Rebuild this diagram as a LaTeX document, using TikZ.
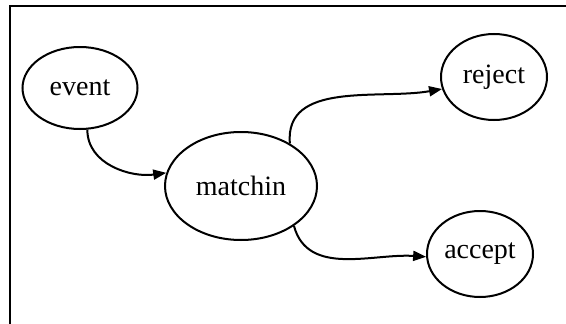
\documentclass[tikz,border=0pt]{standalone}
\usepackage{fontspec}
\setmainfont{Liberation Serif}
\usetikzlibrary{shapes.geometric,arrows.meta}
\begin{document}
\begin{tikzpicture}[x=1pt,y=-1pt,
  state/.style={draw,ellipse,line width=2pt,inner sep=0pt,font=\fontsize{28}{32}\selectfont},
  conn/.style={line width=2pt,-{Triangle[length=13pt,width=10pt]}}]
\useasboundingbox (0,0) rectangle (566,324);
\coordinate (fb) at (10,324);
\coordinate (ftl) at (10,6);
\coordinate (ftr) at (566,6);
\draw[line width=2.2pt] (fb) -- (ftl) -- (ftr);
\node[state,minimum width=115pt,minimum height=82pt] (event) at (80,88) {event};
\node[state,minimum width=152pt,minimum height=108pt] (matchin) at (241,186) {matchin};
\node[state,minimum width=106pt,minimum height=86pt] (reject) at (494,77) {reject};
\node[state,minimum width=106pt,minimum height=86pt] (accept) at (480,254) {accept};
\draw[conn] (event.-80) to[out=-90,in=188] (matchin.170);
\draw[conn] (matchin.41) to[out=95,in=190] (reject.193);
\draw[conn] (matchin.-37) to[out=-75,in=176] (accept.183);
\end{tikzpicture}
\end{document}
